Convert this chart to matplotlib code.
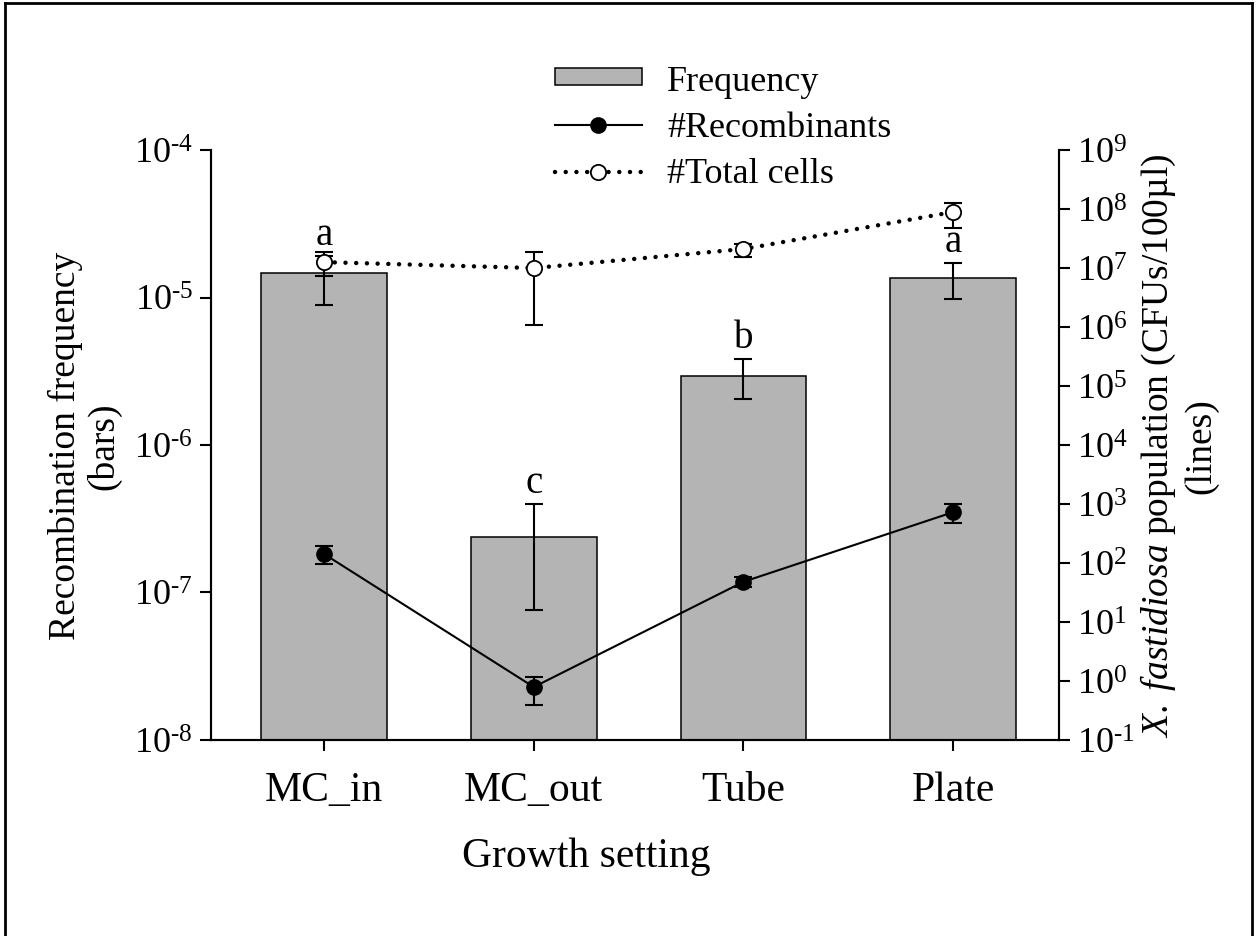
import matplotlib
matplotlib.use("Agg")
import matplotlib.pyplot as plt
from matplotlib.lines import Line2D
from matplotlib.patches import Patch
from matplotlib.ticker import NullLocator
import numpy as np

plt.rcParams['font.family'] = 'Liberation Serif'
plt.rcParams['mathtext.fontset'] = 'custom'
plt.rcParams['mathtext.rm'] = 'Liberation Serif'
plt.rcParams['mathtext.it'] = 'Liberation Serif:italic'

settings = ["MC_in", "MC_out", "Tube", "Plate"]

# recombination frequency (bars) with error limits
freq = [1.47e-5, 2.38e-7, 2.94e-6, 1.36e-5]
freq_hi = [1.91e-5, 3.98e-7, 3.83e-6, 1.71e-5]
freq_lo = [8.9e-6, 7.6e-8, 2.05e-6, 9.8e-6]
letters = ["a", "c", "b", "a"]

# recombinant counts, CFUs/100ul
recomb = [142, 0.79, 48, 727]
recomb_hi = [195, 1.17, 58, 1000]
recomb_lo = [96, 0.39, 39, 478]

# total cell counts, CFUs/100ul
total = [1.26e7, 1.0e7, 2.1e7, 8.9e7]
total_hi = [1.86e7, 1.86e7, 2.6e7, 1.26e8]
total_lo = [7.3e6, 1.1e6, 1.54e7, 4.8e7]

left_exps = [-8, -7, -6, -5, -4]
right_exps = [-1, 0, 1, 2, 3, 4, 5, 6, 7, 8, 9]


def pow_label(e):
    # plain hyphen in the exponent, as SigmaPlot draws it
    s = str(e).replace('-', r'\text{-}')
    return r'$\mathregular{10^{%s}}$' % s


XFS = 30   # category labels and x title
YFS = 26   # y tick labels
LFS = 27   # y titles

fig = plt.figure(figsize=(12.57, 9.37), dpi=100)
ax = fig.add_axes([0.1679, 0.2092, 0.6746, 0.6296])
x = np.arange(len(settings))

freq = np.array(freq)
ax.bar(x, freq, width=0.6, color='#b4b4b4', edgecolor='black', linewidth=1.1, zorder=2)
ax.errorbar(x, freq, yerr=[freq - np.array(freq_lo), np.array(freq_hi) - freq],
            fmt='none', ecolor='black', elinewidth=1.5, capsize=6.5, capthick=1.5, zorder=3)
for xi, hi, lab in zip(x, freq_hi, letters):
    ax.annotate(lab, (xi, hi), xytext=(0, 2), textcoords='offset points',
                ha='center', va='bottom', fontsize=28)

ax.set_yscale('log')
ax.set_ylim(1e-8, 1e-4)
ax.set_xlim(-0.539, 3.505)
ax.set_yticks([10.0 ** e for e in left_exps])
ax.set_yticklabels([pow_label(e) for e in left_exps])
ax.yaxis.set_minor_locator(NullLocator())
ax.set_xticks(x)
ax.set_xticklabels(settings)
ax.tick_params(axis='both', direction='out', length=8, width=1.5)
ax.tick_params(axis='x', pad=14, labelsize=XFS)
ax.tick_params(axis='y', pad=5, labelsize=YFS)
ax.spines['top'].set_visible(False)
for s in ['left', 'bottom', 'right']:
    ax.spines[s].set_linewidth(1.5)

ax.set_xlabel("Growth setting", fontsize=XFS)
ax.xaxis.set_label_coords(0.443, -0.163)
ax.set_ylabel("Recombination frequency\n(bars)", fontsize=LFS, linespacing=1.1)
ax.yaxis.set_label_coords(-0.106, 0.5)

# population counts on the right axis
tw = ax.twinx()
tw.set_yscale('log')
tw.set_ylim(1e-1, 1e9)
recomb = np.array(recomb)
total = np.array(total)
tw.errorbar(x, recomb, yerr=[recomb - np.array(recomb_lo), np.array(recomb_hi) - recomb],
            fmt='none', ecolor='black', elinewidth=1.5, capsize=6.5, capthick=1.5, zorder=3)
tw.plot(x, recomb, color='black', linewidth=1.5, marker='o', markersize=11,
        markerfacecolor='black', markeredgecolor='black', zorder=4)
tw.errorbar(x, total, yerr=[total - np.array(total_lo), np.array(total_hi) - total],
            fmt='none', ecolor='black', elinewidth=1.5, capsize=6.5, capthick=1.5, zorder=3)
tw.plot(x, total, color='black', linewidth=3.2, linestyle=(0, (0.01, 2.4)),
        dash_capstyle='round', marker='o', markersize=11, markerfacecolor='white',
        markeredgecolor='black', markeredgewidth=1.3, zorder=4)
tw.set_yticks([10.0 ** e for e in right_exps])
tw.set_yticklabels([pow_label(e) for e in right_exps])
tw.yaxis.set_minor_locator(NullLocator())
tw.tick_params(axis='y', direction='out', length=8, width=1.5, labelsize=YFS, pad=5)
for s in tw.spines.values():
    s.set_linewidth(1.5)
tw.spines['top'].set_visible(False)
tw.set_ylabel(r'$\mathit{X.\ fastidiosa}$ population (CFUs/100µl)' + '\n(lines)',
              fontsize=LFS, rotation=90, linespacing=1.2)
tw.yaxis.set_label_coords(1.094, 0.5)

handles = [
    Patch(facecolor='#b4b4b4', edgecolor='black', linewidth=1.1),
    Line2D([], [], color='black', linewidth=1.5, marker='o', markersize=11,
           markerfacecolor='black'),
    Line2D([], [], color='black', linewidth=3.2, linestyle=(0, (0.01, 2.4)),
           dash_capstyle='round', marker='o', markersize=11,
           markerfacecolor='white', markeredgewidth=1.3),
]
fig.legend(handles, ["Frequency", "#Recombinants", "#Total cells"],
           loc='upper left', bbox_to_anchor=(0.4415, 0.930), frameon=False,
           fontsize=26, handlelength=2.4, handleheight=0.35, handletextpad=0.7,
           labelspacing=0.37, borderpad=0, borderaxespad=0, numpoints=1)

# outer frame
for xs, ys in [([0.004, 0.004], [0.0, 0.996]), ([0.004, 0.996], [0.996, 0.996]),
               ([0.996, 0.996], [0.0, 0.996])]:
    fig.add_artist(Line2D(xs, ys, color='black', linewidth=2, transform=fig.transFigure))

fig.savefig("out.png", dpi=100)
